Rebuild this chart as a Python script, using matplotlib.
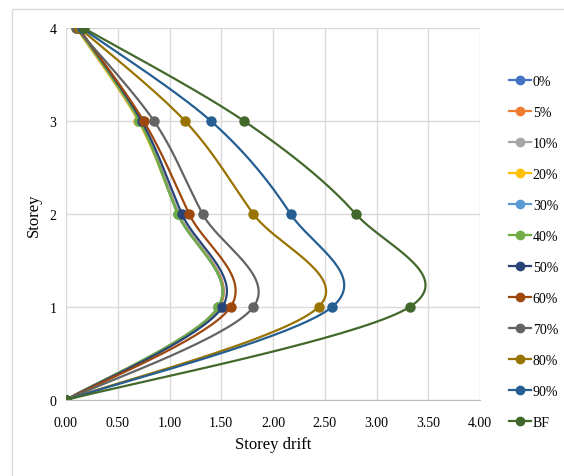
# storey drift chart - excel style smoothed scatter

import matplotlib
matplotlib.use('Agg')
import matplotlib.pyplot as plt
import matplotlib.patches as patches
import numpy as np

plt.rcParams['font.family'] = ['Liberation Serif', 'DejaVu Serif']

# Data
storeys = [0, 1, 2, 3, 4]
labels = ['0%', '5%', '10%', '20%', '30%', '40%', '50%', '60%', '70%', '80%', '90%', 'BF']
drift_0 = [0.0, 1.48, 1.09, 0.71, 0.11]
drift_5 = [0.0, 1.48, 1.09, 0.71, 0.11]
drift_10 = [0.0, 1.47, 1.09, 0.70, 0.10]
drift_20 = [0.0, 1.47, 1.08, 0.70, 0.10]
drift_30 = [0.0, 1.47, 1.08, 0.71, 0.11]
drift_40 = [0.0, 1.47, 1.08, 0.71, 0.11]
drift_50 = [0.0, 1.51, 1.12, 0.73, 0.12]
drift_60 = [0.0, 1.59, 1.19, 0.75, 0.12]
drift_70 = [0.0, 1.81, 1.32, 0.85, 0.10]
drift_80 = [0.0, 2.44, 1.81, 1.15, 0.13]
drift_90 = [0.0, 2.57, 2.17, 1.40, 0.15]
drift_BF = [0.0, 3.32, 2.80, 1.72, 0.17]
drifts = [drift_0, drift_5, drift_10, drift_20, drift_30, drift_40,
          drift_50, drift_60, drift_70, drift_80, drift_90, drift_BF]
colors = ['#4472C4', '#ED7D31', '#A5A5A5', '#FFC000', '#5B9BD5', '#70AD47',
          '#264478', '#9E480E', '#636363', '#997300', '#255E91', '#43682B']


def smooth(x, y, n=40, k=1/6., sy=0.9):
    # catmull-rom like bezier, similar to excel smoothed lines
    P = np.column_stack([np.asarray(x, float), np.asarray(y, float) * sy])
    out = []
    for i in range(len(P) - 1):
        p0 = P[i - 1] if i > 0 else P[i]
        p1 = P[i]
        p2 = P[i + 1]
        p3 = P[i + 2] if i + 2 < len(P) else P[i + 1]
        c1 = p1 + (p2 - p0) * k
        c2 = p2 - (p3 - p1) * k
        t = np.linspace(0, 1, n)[:, None]
        seg = (1-t)**3*p1 + 3*(1-t)**2*t*c1 + 3*(1-t)*t**2*c2 + t**3*p2
        out.append(seg if i == 0 else seg[1:])
    out = np.vstack(out)
    return out[:, 0], out[:, 1] / sy


fig = plt.figure(figsize=(5.64, 4.77), dpi=100)
ax = fig.add_axes([66/564, 1-401/477, 414/564, 372/477])

for d, c, lab in zip(drifts, colors, labels):
    xs, ys = smooth(d, storeys)
    ax.plot(xs, ys, color=c, lw=1.6, solid_capstyle='round')
    ax.plot(d, storeys, 'o', color=c, ms=6.5)
    ax.plot([], [], '-o', color=c, lw=1.6, ms=6, label=lab)

ax.set_xlim(0, 4)
ax.set_ylim(0, 4)
ax.set_xticks(np.arange(0, 4.01, 0.5))
ax.set_xticklabels(['%.2f' % v for v in np.arange(0, 4.01, 0.5)])
ax.set_yticks([0, 1, 2, 3, 4])
ax.grid(True, color='#D9D9D9', lw=1)
ax.set_axisbelow(True)
for s in ['top', 'right', 'left']:
    ax.spines[s].set_visible(False)
ax.spines['bottom'].set_color('#BFBFBF')
ax.tick_params(length=0, labelsize=10)
ax.tick_params(axis='x', pad=11.5)
ax.tick_params(axis='y', pad=7)
ax.set_xlabel('Storey drift', fontsize=12, labelpad=5)
ax.set_ylabel('Storey', fontsize=12, labelpad=5)

leg = fig.legend(loc='upper left', bbox_to_anchor=(503/564, 1-70/477),
                 frameon=False, fontsize=10, handlelength=1.6,
                 handletextpad=0.15, labelspacing=1.3, borderaxespad=0)

# chart border (cropped on right and bottom)
fig.patches.append(patches.Rectangle((12/564, -0.1), 1.2, 1-10/477+0.1,
                                     transform=fig.transFigure, fill=False,
                                     edgecolor='#D9D9D9', lw=1))

plt.savefig('out.png', dpi=100)
